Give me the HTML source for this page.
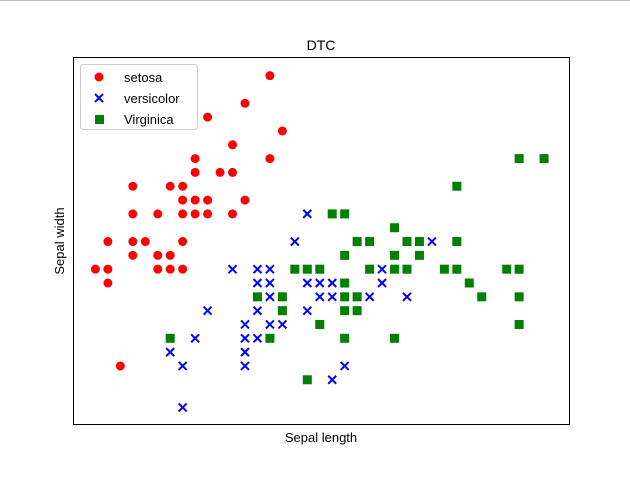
<!DOCTYPE html>
<html><head><meta charset="utf-8"><style>
body{margin:0;background:#fff;width:630px;height:478px;overflow:hidden}
svg{font-family:"Liberation Sans","DejaVu Sans",sans-serif}
</style></head><body>
<svg id="chart" width="630" height="478">
<rect x="0" y="0" width="630" height="478" fill="#fff"/>
<rect x="0" y="0" width="630" height="1" fill="#bbb"/>
<text x="321" y="50" text-anchor="middle" font-size="14">DTC</text>
<text x="321" y="442" text-anchor="middle" font-size="13">Sepal length</text>
<text x="64" y="241" text-anchor="middle" font-size="13" transform="rotate(-90 64 241)">Sepal width</text>
<g id="marks"></g>
<rect x="73.5" y="57.5" width="496" height="367" fill="none" stroke="#000" stroke-width="1"/>
<g>
<rect x="80.5" y="64.5" width="117" height="65" rx="3" fill="#fff" fill-opacity="0.8" stroke="#ccc"/>
<g><circle cx="99" cy="77" r="4.5" fill="#ff0000"/><text x="124" y="82" font-size="13">setosa</text></g>
<g><path d="M95,94 L103,102 M103,94 L95,102" stroke="#0000ff" stroke-width="2"/><text x="124" y="103" font-size="13">versicolor</text></g>
<g><rect x="95" y="115" width="9" height="9" fill="#008000"/><text x="124" y="124" font-size="13">Virginica</text></g>
</g>
</svg>
<script>
const setosaX=[5.7,5.5,5.2,5.4,5.8,5.1,5.7,5.1,5.3,5.4,4.6,4.9,5.0,5.0,5.1,5.2,5.5,4.6,4.8,5.0,5.1,5.2,5.4,4.4,4.6,4.7,5.0,4.8,4.9,4.6,4.3,4.4,4.8,4.9,5.0,4.4,4.5];
const setosaY=[4.4,4.2,4.1,3.9,4.0,3.8,3.8,3.7,3.7,3.7,3.6,3.6,3.6,3.5,3.5,3.5,3.5,3.4,3.4,3.4,3.4,3.4,3.4,3.2,3.2,3.2,3.2,3.1,3.1,3.1,3.0,3.0,3.0,3.0,3.0,2.9,2.3];
const versiX=[6.0,5.9,7.0,5.4,5.6,5.7,6.6,5.6,5.7,6.0,6.1,6.2,6.6,5.7,6.1,6.2,6.4,6.5,6.8,5.2,5.6,5.8,6.0,5.5,5.7,5.8,5.1,5.5,5.6,4.9,5.5,5.0,5.5,6.3,6.2,5.0];
const versiY=[3.4,3.2,3.2,3.0,3.0,3.0,3.0,2.9,2.9,2.9,2.9,2.9,2.9,2.8,2.8,2.8,2.8,2.8,2.8,2.7,2.7,2.7,2.7,2.6,2.6,2.6,2.5,2.5,2.5,2.4,2.4,2.3,2.3,2.3,2.2,2.0];
const virgX=[7.7,7.9,7.2,6.2,6.3,6.7,6.4,6.5,6.8,6.9,7.2,6.3,6.7,6.9,5.9,6.0,6.1,6.5,6.7,6.8,7.1,7.2,7.6,7.7,6.3,7.3,5.6,5.8,6.3,6.4,7.4,7.7,5.8,6.3,6.4,6.1,7.7,4.9,5.7,6.3,6.7,6.0];
const virgY=[3.8,3.8,3.6,3.4,3.4,3.3,3.2,3.2,3.2,3.2,3.2,3.1,3.1,3.1,3.0,3.0,3.0,3.0,3.0,3.0,3.0,3.0,3.0,3.0,2.9,2.9,2.8,2.8,2.8,2.8,2.8,2.8,2.7,2.7,2.7,2.6,2.6,2.5,2.5,2.5,2.5,2.2];
const xMin=4.12,xMax=8.1,yMin=1.88,yMax=4.535;
function sx(v){return 73+(v-xMin)/(xMax-xMin)*496;}
function sy(v){return 424-(v-yMin)/(yMax-yMin)*367;}
const NS="http://www.w3.org/2000/svg";
const g=document.getElementById('marks');
setosaX.forEach((v,i)=>{
  const c=document.createElementNS(NS,'circle');
  c.setAttribute('cx',sx(v));c.setAttribute('cy',sy(setosaY[i]));c.setAttribute('r',4.5);c.setAttribute('fill','#ff0000');
  
  
  g.appendChild(c);
});
versiX.forEach((v,i)=>{
  const x=sx(v),y=sy(versiY[i]);
  const p=document.createElementNS(NS,'path');
  p.setAttribute('d',`M${x-4},${y-4} L${x+4},${y+4} M${x+4},${y-4} L${x-4},${y+4}`);
  p.setAttribute('stroke','#0000ff');p.setAttribute('stroke-width','2');
  
  
  g.appendChild(p);
});
virgX.forEach((v,i)=>{
  const r=document.createElementNS(NS,'rect');
  r.setAttribute('x',sx(v)-4.5);r.setAttribute('y',sy(virgY[i])-4.5);r.setAttribute('width',9);r.setAttribute('height',9);r.setAttribute('fill','#008000');
  
  
  g.appendChild(r);
});
</script>
</body></html>
